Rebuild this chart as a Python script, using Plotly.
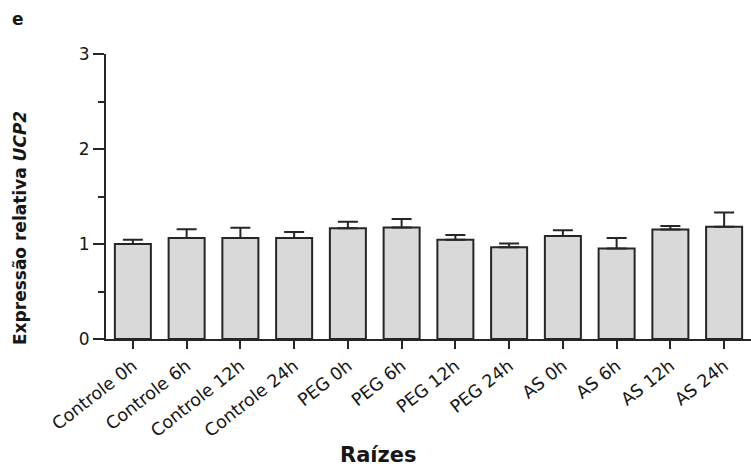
import plotly.graph_objects as go

categories = ["Controle 0h", "Controle 6h", "Controle 12h", "Controle 24h",
              "PEG 0h", "PEG 6h", "PEG 12h", "PEG 24h",
              "AS 0h", "AS 6h", "AS 12h", "AS 24h"]
means = [1.00, 1.063, 1.063, 1.063, 1.165, 1.175, 1.044, 0.967, 1.083, 0.952, 1.153, 1.181]
errors = [0.045, 0.091, 0.109, 0.064, 0.070, 0.088, 0.050, 0.038, 0.063, 0.110, 0.036, 0.151]
y_ticks = [0, 1, 2, 3]

FONT = "DejaVu Sans, Liberation Sans, Arial, sans-serif"
DARK = "#262626"
TXT = "#161616"

fig = go.Figure()
fig.add_trace(go.Bar(
    x=list(range(len(categories))),
    y=means,
    width=0.67,
    marker=dict(color="#d9d9d9", line=dict(color=DARK, width=2)),
    error_y=dict(type="data", symmetric=False, array=errors,
                 arrayminus=[0] * len(errors), color=DARK,
                 thickness=2, width=10),
))

fig.update_layout(
    width=751, height=471,
    margin=dict(l=106, r=0, t=54, b=132),
    paper_bgcolor="white", plot_bgcolor="white",
    showlegend=False,
    font=dict(family=FONT, color=TXT, size=15),
    xaxis=dict(
        range=[-0.5, 11.5],
        tickmode="array", tickvals=list(range(len(categories))), ticktext=categories,
        tickangle=-38, ticks="outside", ticklen=8, tickwidth=2, tickcolor=DARK,
        showline=True, linecolor=DARK, linewidth=2,
        showgrid=False, zeroline=False,
        tickfont=dict(size=17.5, family=FONT, color=TXT),
    ),
    yaxis=dict(
        range=[0, 3],
        tickmode="array", tickvals=y_ticks, ticktext=[str(v) for v in y_ticks],
        ticks="outside", ticklen=11, tickwidth=2, tickcolor=DARK,
        minor=dict(dtick=0.5, tick0=0, ticks="outside", ticklen=6, tickwidth=2, tickcolor=DARK),
        showline=True, linecolor=DARK, linewidth=2,
        showgrid=False, zeroline=False,
        tickfont=dict(size=17, family=FONT, color=TXT),
    ),
    annotations=[
        dict(text="<b>Expressão relativa <i>UCP2</i></b>", xref="paper", yref="paper",
             x=(20 - 106) / 645, y=(339 - 228) / 285, xanchor="center", yanchor="middle",
             textangle=-90, showarrow=False, font=dict(size=17, family=FONT, color=TXT)),
        dict(text="<b>Raízes</b>", xref="paper", yref="paper",
             x=(378 - 106) / 645, y=-(455 - 339) / 285, xanchor="center", yanchor="middle",
             showarrow=False, font=dict(size=21, family=FONT, color=TXT)),
        dict(text="<b>e</b>", xref="paper", yref="paper",
             x=(18 - 106) / 645, y=(339 - 19) / 285, xanchor="center", yanchor="middle",
             showarrow=False, font=dict(size=17, family=FONT, color=TXT)),
    ],
)

fig.write_html("out.html")
